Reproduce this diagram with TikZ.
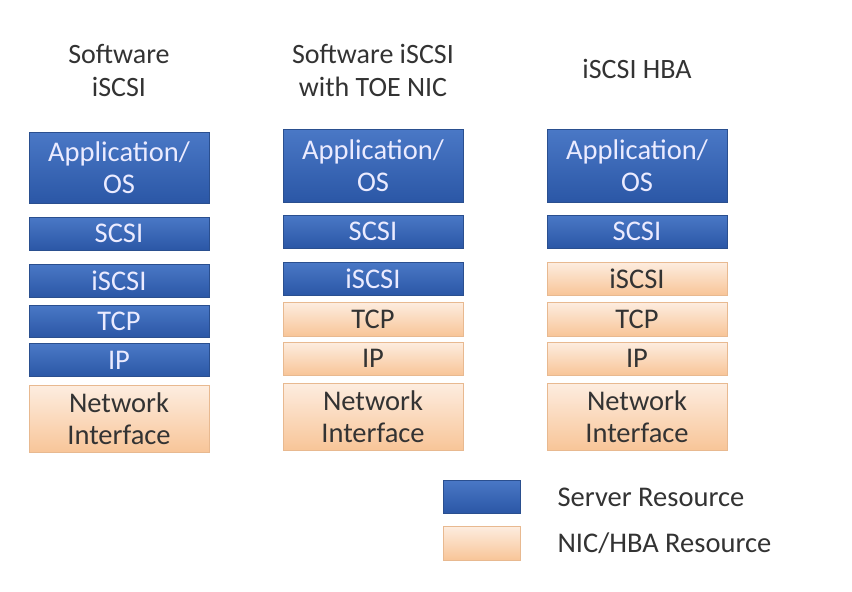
\documentclass[tikz,border=0pt]{standalone}
\usepackage{fontspec}
\setmainfont{Carlito}
\definecolor{srvtop}{HTML}{4A78C6}
\definecolor{srvbot}{HTML}{2B57A6}
\definecolor{srvline}{HTML}{2A4F8F}
\definecolor{nictop}{HTML}{FDEDE0}
\definecolor{nicbot}{HTML}{F8C598}
\definecolor{nicline}{HTML}{E8B990}
\definecolor{inkgray}{HTML}{333333}
\tikzset{
  layer/.style={minimum width=180pt, inner sep=0pt, align=center,
    font=\fontsize{28.5}{32}\selectfont},
  srvlayer/.style={layer, draw=srvline, top color=srvtop, bottom color=srvbot,
    text=white!92!blue},
  niclayer/.style={layer, draw=nicline, top color=nictop, bottom color=nicbot,
    text=inkgray},
  stacktitle/.style={align=center, text=inkgray, font=\fontsize{28}{33}\selectfont},
  keytext/.style={anchor=west, text=inkgray, font=\fontsize{28.5}{32}\selectfont}
}
\begin{document}
\begin{tikzpicture}[x=1pt, y=-1pt]
		% canvas
		\useasboundingbox[fill=white] (0,0) rectangle (852,592);
		
		% --- LEFT STACK: SOFTWARE iSCSI ---
		\node[stacktitle] (t1) at (119,70) {Software\\iSCSI};
		\node[srvlayer, minimum height=71pt] (app1) at (119,167.5) {Application/\\OS};
		\node[srvlayer, minimum height=33pt] (scsi1) at (119,233.5) {SCSI};
		\node[srvlayer, minimum height=33pt] (iscsi1) at (119,280.5) {iSCSI};
		\node[srvlayer, minimum height=32pt] (tcp1) at (119,321) {TCP};
		\node[srvlayer, minimum height=33pt] (ip1) at (119,360) {IP};
		\node[niclayer, minimum height=67pt] (net1) at (119,419) {Network\\Interface};
		
		% --- MIDDLE STACK: TOE NIC ---
		\node[stacktitle] (t2) at (373,70) {Software iSCSI\\with TOE NIC};
		\node[srvlayer, minimum height=73pt] (app2) at (373,165.5) {Application/\\OS};
		\node[srvlayer, minimum height=33pt] (scsi2) at (373,231.5) {SCSI};
		\node[srvlayer, minimum height=33pt] (iscsi2) at (373,278.5) {iSCSI};
		\node[niclayer, minimum height=34pt] (tcp2) at (373,319) {TCP};
		\node[niclayer, minimum height=33pt] (ip2) at (373,358.5) {IP};
		\node[niclayer, minimum height=67pt] (net2) at (373,416.5) {Network\\Interface};
		
		% --- RIGHT STACK: HBA ---
		\node[stacktitle] (t3) at (637,69) {iSCSI HBA};
		\node[srvlayer, minimum height=73pt] (app3) at (637,165.5) {Application/\\OS};
		\node[srvlayer, minimum height=33pt] (scsi3) at (637,231.5) {SCSI};
		\node[niclayer, minimum height=33pt] (iscsi3) at (637,278.5) {iSCSI};
		\node[niclayer, minimum height=34pt] (tcp3) at (637,319) {TCP};
		\node[niclayer, minimum height=33pt] (ip3) at (637,358.5) {IP};
		\node[niclayer, minimum height=67pt] (net3) at (637,416.5) {Network\\Interface};
		
		% Legend
		\node[srvlayer, minimum width=77pt, minimum height=33pt] (keysrv) at (481.5,496.5) {};
		\node[niclayer, minimum width=77pt, minimum height=34pt] (keynic) at (481.5,543) {};
		\node[keytext] (keysrvtext) at (554,497) {Server Resource};
		\node[keytext] (keynictext) at (554,543) {NIC/HBA Resource};
		
	\end{tikzpicture}
\end{document}
